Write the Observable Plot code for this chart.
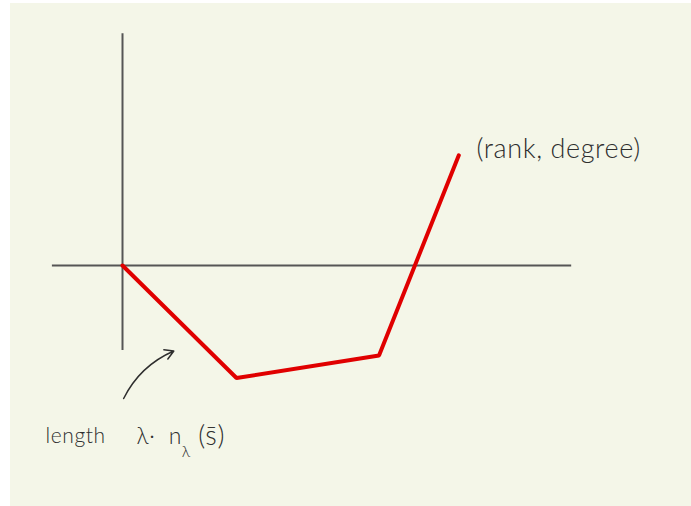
<!DOCTYPE html>
<html>
<head>
<meta charset="utf-8">
<script src="https://cdn.jsdelivr.net/npm/d3@7"></script>
<script src="https://cdn.jsdelivr.net/npm/@observablehq/plot@0.6"></script>
<style>
  html, body { margin: 0; padding: 0; background: #ffffff; }
  #chart { position: absolute; left: 10px; top: 3px; }
  #chart svg { display: block; background: #f4f6e8; }
  #chart text { letter-spacing: 0.6px; }
</style>
</head>
<body>
<div id="chart"></div>
<script>
// Piecewise-linear path traced from the origin: (rank, degree) vertices
const rank = [0, 2, 4.5, 5.9];
const degree = [0, -5, -4, 4.9];

// Annotation texts
const endLabel = "(rank, degree)";
const lengthWord = "length";
const lambdaDot = "λ·";
const nSymbol = "n";
const nSubscript = "λ";
const sArg = "(s̄)";

const path = rank.map((r, i) => ({rank: r, degree: degree[i]}));

const ink = "#2e2e2e";
const font = "Lato, 'Open Sans', sans-serif";

const plot = Plot.plot({
  width: 681,
  height: 503,
  margin: 0,
  x: {domain: [-1.965, 9.982], axis: null},
  y: {domain: [-10.711, 11.644], axis: null},
  style: {background: "#f4f6e8", fontFamily: font},
  marks: [
    // hand-drawn axes through the origin
    Plot.ruleY([0], {x1: -1.23, x2: 7.88, stroke: "#555", strokeWidth: 2}),
    Plot.ruleX([0], {y1: -3.78, y2: 10.3, stroke: "#555", strokeWidth: 2}),
    // the red polyline
    Plot.line(path, {x: "rank", y: "degree", stroke: "#e00000", strokeWidth: 4, strokeLinejoin: "miter", strokeLinecap: "round"}),
    // end-point label
    Plot.text([endLabel], {x: 6.21, y: 5.15, text: d => d, textAnchor: "start", fontSize: 27, fontWeight: 300, fill: ink}),
    // pointer toward the first segment
    Plot.arrow([0], {x1: 0.02, y1: -5.91, x2: 0.9, y2: -3.8, bend: 20, stroke: ink, strokeWidth: 1.5, headLength: 10}),
    // length annotation
    Plot.text([lengthWord], {x: -1.35, y: -7.6, text: d => d, textAnchor: "start", fontSize: 21, fontWeight: 300, fill: ink}),
    Plot.text([lambdaDot], {x: 0.246, y: -7.6, text: d => d, textAnchor: "start", fontSize: 23, fontWeight: 300, fill: ink}),
    Plot.text([nSymbol], {x: 0.81, y: -7.6, text: d => d, textAnchor: "start", fontSize: 23, fontWeight: 300, fill: ink}),
    Plot.text([nSubscript], {x: 1.04, y: -8.3, text: d => d, textAnchor: "start", fontSize: 16, fontWeight: 300, fill: ink}),
    Plot.text([sArg], {x: 1.33, y: -7.6, text: d => d, textAnchor: "start", fontSize: 27, fontWeight: 300, fill: ink})
  ]
});

document.getElementById("chart").appendChild(plot);
</script>
</body>
</html>
